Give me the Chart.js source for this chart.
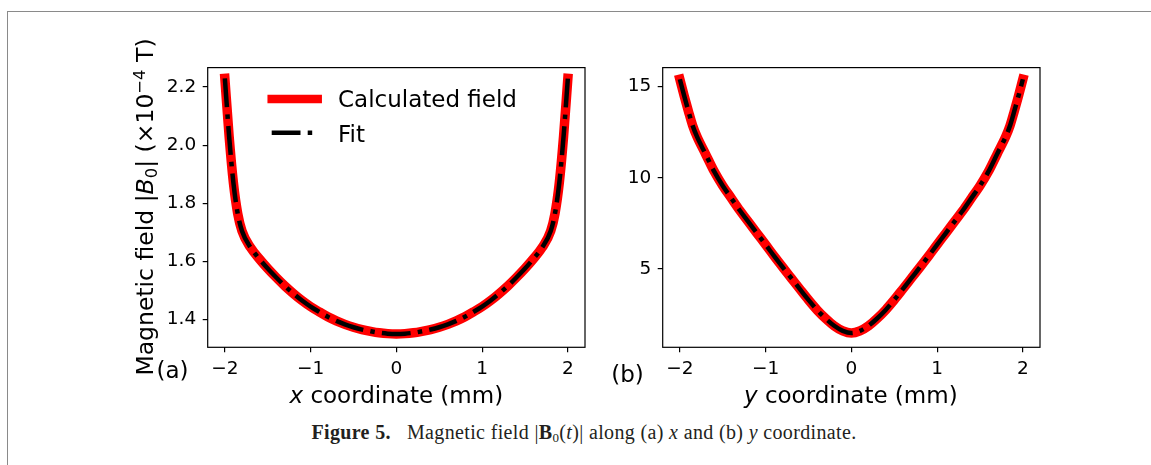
<!DOCTYPE html>
<html>
<head>
<meta charset="utf-8">
<script src="https://cdn.jsdelivr.net/npm/chart.js@4.4.1/dist/chart.umd.min.js"></script>
<style>
html,body{margin:0;padding:0;background:#fff;width:1151px;height:465px;overflow:hidden;position:relative;}
#frame{position:absolute;left:7px;top:11px;width:1200px;height:500px;border-left:1px solid #8a8a8a;border-top:1px solid #8a8a8a;}
.box{position:absolute;top:50px;width:450px;height:340px;}
.lbl{position:absolute;font-family:'DejaVu Sans';font-size:23px;color:#000;white-space:nowrap;line-height:1;transform:translate(-50%,-50%);}
.sub{font-size:70%;position:relative;top:0.22em;}
.sup{font-size:70%;position:relative;top:-0.5em;}
#ytitle{transform:translate(-50%,-50%) rotate(-90deg);font-size:23.5px;}
#caption{position:absolute;left:584px;top:432px;transform:translate(-50%,-50%);font-family:'Liberation Serif';font-size:20px;color:#231f20;white-space:nowrap;line-height:1;letter-spacing:0.35px;}
#caption .csub{font-size:65%;position:relative;top:0.25em;}
</style>
</head>
<body>
<div id="frame"></div>
<div class="box" style="left:150px;"><canvas id="cA" width="450" height="340"></canvas></div>
<div class="box" style="left:604.6px;"><canvas id="cB" width="450" height="340"></canvas></div>
<div class="lbl" id="ytitle" style="left:146px;top:207px;">Magnetic field |<i>B</i><span class="sub">0</span>| (×10<span class="sup">−4</span> T)</div>
<div class="lbl" style="left:172.5px;top:370px;">(a)</div>
<div class="lbl" style="left:627.5px;top:374px;">(b)</div>
<div class="lbl" style="left:396.3px;top:395px;"><i>x</i> coordinate (mm)</div>
<div class="lbl" style="left:850.8px;top:395px;"><i>y</i> coordinate (mm)</div>
<div id="caption"><b>Figure 5.</b>&nbsp;&nbsp;&nbsp;Magnetic field |<b>B</b><span class="csub">0</span>(<i>t</i>)| along (a) <i>x</i> and (b) <i>y</i> coordinate.</div>
<script>
// ---- data ----
const coord = [-2,-1.95,-1.9,-1.85,-1.8,-1.7,-1.6,-1.5,-1.4,-1.3,-1.2,-1.1,-1,-0.9,-0.8,-0.7,-0.6,-0.5,-0.4,-0.3,-0.2,-0.1,0,
               0.1,0.2,0.3,0.4,0.5,0.6,0.7,0.8,0.9,1,1.1,1.2,1.3,1.4,1.5,1.6,1.7,1.8,1.85,1.9,1.95,2];
const calcX = [2.23,2.03,1.87,1.765,1.705,1.648,1.61,1.576,1.545,1.516,1.49,1.466,1.445,1.427,1.41,1.396,1.384,1.374,1.366,1.36,1.355,1.352,1.351,
               1.352,1.355,1.36,1.366,1.374,1.384,1.396,1.41,1.427,1.445,1.466,1.49,1.516,1.545,1.576,1.61,1.648,1.705,1.765,1.87,2.03,2.23];
const fitX  = [2.23,2.03,1.87,1.765,1.705,1.648,1.61,1.576,1.545,1.516,1.49,1.466,1.445,1.427,1.41,1.396,1.384,1.374,1.366,1.36,1.355,1.352,1.351,
               1.352,1.355,1.36,1.366,1.374,1.384,1.396,1.41,1.427,1.445,1.466,1.49,1.516,1.545,1.576,1.61,1.648,1.705,1.765,1.87,2.03,2.23];
const calcY = [15.4,14.5,13.65,12.85,12.25,11.3,10.35,9.56,8.88,8.2,7.58,6.95,6.33,5.7,5.09,4.49,3.89,3.3,2.75,2.28,1.88,1.6,1.48,
               1.6,1.88,2.28,2.75,3.3,3.89,4.49,5.09,5.7,6.33,6.95,7.58,8.2,8.88,9.56,10.35,11.3,12.25,12.85,13.65,14.5,15.4];
const fitY  = [15.4,14.5,13.65,12.85,12.25,11.3,10.35,9.56,8.88,8.2,7.58,6.95,6.33,5.7,5.09,4.49,3.89,3.3,2.75,2.28,1.88,1.6,1.48,
               1.6,1.88,2.28,2.75,3.3,3.89,4.49,5.09,5.7,6.33,6.95,7.58,8.2,8.88,9.56,10.35,11.3,12.25,12.85,13.65,14.5,15.4];
const xTicks  = [-2,-1,0,1,2];
const yTicksA = [1.4,1.6,1.8,2.0,2.2];
const yTicksB = [5,10,15];
const legendLabels = ['Calculated field','Fit'];

// ---- chart ----
Chart.defaults.font.family = "'DejaVu Sans'";
Chart.defaults.color = '#000';

const minus = v => (v < 0 ? '\u2212' + Math.abs(v) : String(v));

const boxPlugin = {
  id: 'box',
  afterDatasetsDraw(chart) {
    const {ctx, chartArea: a} = chart;
    ctx.save();
    ctx.strokeStyle = '#000';
    ctx.lineWidth = 1.2;
    ctx.strokeRect(a.left, a.top, a.right - a.left, a.bottom - a.top);
    ctx.restore();
  }
};

const legendPlugin = {
  id: 'mplLegend',
  afterDraw(chart) {
    const {ctx, chartArea: a} = chart;
    ctx.save();
    ctx.beginPath();
    ctx.strokeStyle = '#ff0000';
    ctx.lineWidth = 8.5;
    ctx.lineCap = 'square';
    ctx.moveTo(a.left + 64, a.top + 31.5);
    ctx.lineTo(a.left + 110, a.top + 31.5);
    ctx.stroke();
    ctx.beginPath();
    ctx.strokeStyle = '#000';
    ctx.lineWidth = 4.5;
    ctx.lineCap = 'butt';
    ctx.setLineDash([28.8, 7.2, 4.5, 7.2]);
    ctx.moveTo(a.left + 64, a.top + 65.2);
    ctx.lineTo(a.left + 110, a.top + 65.2);
    ctx.stroke();
    ctx.setLineDash([]);
    ctx.fillStyle = '#000';
    ctx.font = "23px 'DejaVu Sans'";
    ctx.textBaseline = 'alphabetic';
    ctx.textAlign = 'left';
    ctx.fillText(legendLabels[0], a.left + 130.3, a.top + 39.2);
    ctx.fillText(legendLabels[1], a.left + 130.3, a.top + 73.9);
    ctx.restore();
  }
};

function makeChart(id, calc, fit, yMin, yMax, yTicks, yFmt, withLegend) {
  const pts = arr => coord.map((x, i) => ({x: x, y: arr[i]}));
  const gridOpts = {drawOnChartArea: false, drawTicks: true, tickLength: 5, color: '#000', lineWidth: 1.2};
  return new Chart(document.getElementById(id), {
    type: 'line',
    data: {
      datasets: [
        {label: legendLabels[0], data: pts(calc), borderColor: '#ff0000', borderWidth: 9.5,
         pointRadius: 0, cubicInterpolationMode: 'monotone', borderCapStyle: 'square',
         borderJoinStyle: 'round', fill: false, order: 1},
        {label: legendLabels[1], data: pts(fit), borderColor: '#000', borderWidth: 4.5,
         borderDash: [28.8, 7.2, 4.5, 7.2], pointRadius: 0, cubicInterpolationMode: 'monotone',
         borderCapStyle: 'butt', fill: false, order: 0}
      ]
    },
    options: {
      responsive: false,
      animation: false,
      events: [],
      layout: {padding: {left: 0, top: 17.5, right: 15, bottom: 0}},
      plugins: {legend: {display: false}, tooltip: {enabled: false}},
      scales: {
        x: {
          type: 'linear', min: -2.2, max: 2.2,
          afterBuildTicks: s => { s.ticks = xTicks.map(v => ({value: v})); },
          afterFit: s => { s.height = 42.7; },
          ticks: {font: {size: 18.5}, color: '#000', padding: 5.5, maxRotation: 0, autoSkip: false,
                  callback: v => minus(v)},
          grid: gridOpts,
          border: {display: false}
        },
        y: {
          type: 'linear', min: yMin, max: yMax,
          afterBuildTicks: s => { s.ticks = yTicks.map(v => ({value: v})); },
          afterFit: s => { s.width = 57.7; },
          ticks: {font: {size: 18.5}, color: '#000', padding: 6.5, autoSkip: false,
                  callback: v => yFmt(v)},
          grid: gridOpts,
          border: {display: false}
        }
      }
    },
    plugins: withLegend ? [boxPlugin, legendPlugin] : [boxPlugin]
  });
}

makeChart('cA', calcX, fitX, 1.305, 2.267, yTicksA, v => v.toFixed(1), true);
makeChart('cB', calcY, fitY, 0.70, 16.04, yTicksB, v => String(v), false);
</script>
</body>
</html>
